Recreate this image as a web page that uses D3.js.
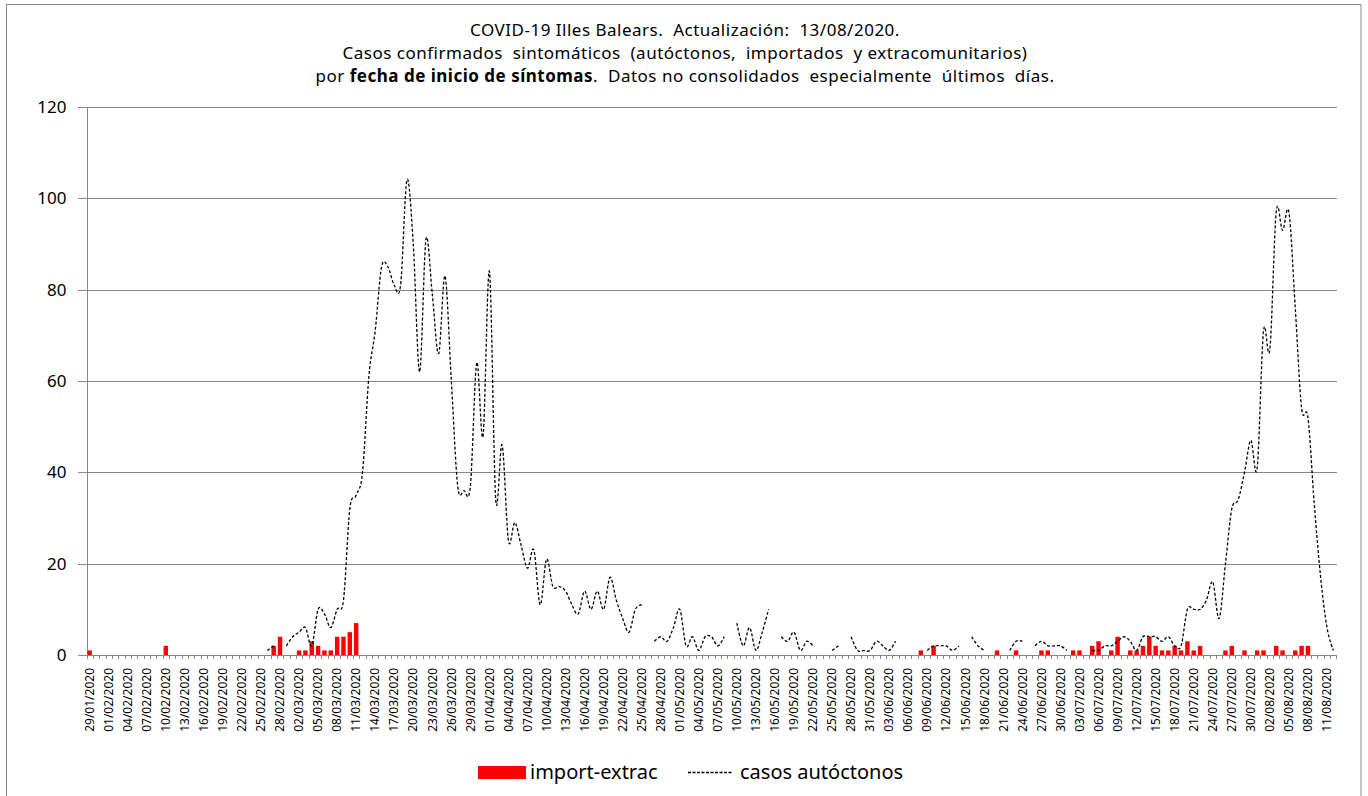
<!DOCTYPE html>
<html lang="es">
  <head>
    <meta charset="utf-8">
    <title>COVID-19 Illes Balears</title>
    <script src="https://d3js.org/d3.v7.min.js"></script>
    <style>
      body { margin: 0; background: #fff; }
      text { font-family: "Noto Sans", "Open Sans", sans-serif; fill: #000; }
    </style>
  </head>
  <body>
    <svg width="1368" height="796"></svg>
    <script>

      // first and last day on the x axis (one category per day)
      var firstDay = "29/01/2020";
      var lastDay = "12/08/2020";

      // casos autóctonos per day, null = empty cell (line is broken there)
      var autoJan = [null, null, null];
      var autoFeb = [null,null,null,null,null,null,null,null,null,null,
                     null,null,null,null,null,null,null,null,null,null,
                     null,null,null,null,null,1,2,null,2];
      var autoMar = [4,5,6,2,10,9,6,10,12,32, 35,40,61,71,85,85,81,81,104,90,
                     62,91,79,66,83,60,37,36,37,64, 48];
      var autoApr = [84,34,46,25,29,24,19,23,11,21, 15,15,14,11,9,14,10,14,10,17,
                     12,8,5,10,11,null,3,4,3,6];
      var autoMay = [10,2,4,1,4,4,2,4,null,7, 2,6,1,5,10,null,4,3,5,1,
                     3,2,null,null,1,2,null,4,1,1, 1];
      var autoJun = [3,2,1,3,null,null,null,null,1,2, 2,2,1,2,null,4,2,1,null,null,
                     null,1,3,3,null,2,3,2,2,2];
      var autoJul = [1,null,null,null,1,1,2,2,3,4, 3,1,4,4,4,3,4,2,2,10,
                     10,10,12,16,8,20,32,34,40,47, 41];
      var autoAug = [71,67,97,93,97,76,54,52,33,17,6,1];

      // import-extrac per day
      var impJan = [1,0,0];
      var impFeb = [0,0,0,0,0,0,0,0,0,2, 0,0,0,0,0,0,0,0,0,0, 0,0,0,0,0,0,2,4,0];
      var impMar = [0,1,1,3,2,1,1,4,4,5, 7,0,0,0,0,0,0,0,0,0, 0,0,0,0,0,0,0,0,0,0, 0];
      var impApr = [0,0,0,0,0,0,0,0,0,0, 0,0,0,0,0,0,0,0,0,0, 0,0,0,0,0,0,0,0,0,0];
      var impMay = [0,0,0,0,0,0,0,0,0,0, 0,0,0,0,0,0,0,0,0,0, 0,0,0,0,0,0,0,0,0,0, 0];
      var impJun = [0,0,0,0,0,0,0,1,0,2, 0,0,0,0,0,0,0,0,0,1, 0,0,1,0,0,0,1,1,0,0];
      var impJul = [0,1,1,0,2,3,0,1,4,0, 1,1,2,4,2,1,1,2,1,3, 1,2,0,0,0,1,2,0,1,0, 1];
      var impAug = [1,0,2,1,0,1,2,2,0,0,0,0];

      var yTicks = [0, 20, 40, 60, 80, 100, 120];
      var seriesNames = ["import-extrac", "casos autóctonos"];

      var titleLines = [
        "COVID-19 Illes Balears.  Actualización:  13/08/2020.",
        "Casos confirmados  sintomáticos  (autóctonos,  importados  y extracomunitarios)"
      ];

      var autoctonos = [].concat(autoJan, autoFeb, autoMar, autoApr, autoMay, autoJun, autoJul, autoAug);
      var importados = [].concat(impJan, impFeb, impMar, impApr, impMay, impJun, impJul, impAug);

      var parseDay = d3.timeParse("%d/%m/%Y");
      var fmtDay = d3.timeFormat("%d/%m/%Y");
      var days = d3.timeDay.range(parseDay(firstDay), d3.timeDay.offset(parseDay(lastDay), 1)).map(fmtDay);

      var svg = d3.select("svg");
      // plot area (note: "top" is a reserved window property, so use other names)
      var plotL = 86.5, plotR = 1336.5, plotT = 107, plotB = 655;

      var x = d3.scaleBand().domain(days).range([plotL, plotR]);
      var y = d3.scaleLinear().domain([0, 120]).range([plotB, plotT]);

      // outer frame of the chart
      svg.append("rect")
        .attr("x", 6.5).attr("y", 4.5)
        .attr("width", 1354.5).attr("height", 800)
        .attr("fill", "none").attr("stroke", "#8e8e8e");

      // title
      var title = svg.append("text")
        .attr("text-anchor", "middle")
        .style("font-size", "17px")
        .style("letter-spacing", "0.5px")
        .style("white-space", "pre");
      title.selectAll("tspan.line").data(titleLines).enter().append("tspan")
        .attr("class", "line")
        .attr("x", 685)
        .attr("y", function(d, i) { return 36 + i * 23; })
        .text(function(d) { return d; });
      var last = svg.append("text")
        .attr("x", 685).attr("y", 82)
        .attr("text-anchor", "middle")
        .style("font-size", "17px")
        .style("letter-spacing", "0.5px")
        .style("white-space", "pre");
      last.append("tspan").text("por ");
      last.append("tspan").style("font-weight", "bold").text("fecha de inicio de síntomas");
      last.append("tspan").text(".  Datos no consolidados  especialmente  últimos  días.");

      // horizontal gridlines
      svg.append("g")
        .attr("transform", "translate(" + plotL + ",0)")
        .call(d3.axisLeft(y).tickValues(yTicks).tickSize(-(plotR - plotL)).tickFormat(""))
        .call(function(g) { g.select(".domain").remove(); })
        .selectAll("line").attr("stroke", "#878787").attr("shape-rendering", "crispEdges");

      // y axis
      var yAxis = svg.append("g")
        .attr("transform", "translate(" + plotL + ",0)")
        .call(d3.axisLeft(y).tickValues(yTicks).tickSize(9).tickPadding(11));
      yAxis.select(".domain").attr("stroke", "#878787").attr("shape-rendering", "crispEdges");
      yAxis.selectAll("line").attr("stroke", "#878787").attr("shape-rendering", "crispEdges");
      yAxis.selectAll("text").style("font-size", "17px").style("font-family", "Noto Sans");

      // x axis: a small tick on every day boundary, a label every 3 days
      var xAxis = svg.append("g")
        .attr("transform", "translate(0," + plotB + ")")
        .call(d3.axisBottom(x).tickValues(days.filter(function(d, i) { return i % 3 == 0; })).tickSize(0));
      xAxis.select(".domain").attr("stroke", "#878787").attr("shape-rendering", "crispEdges");
      xAxis.selectAll("text")
        .attr("transform", "rotate(-90)")
        .attr("text-anchor", "end")
        .attr("x", -13).attr("y", 0).attr("dy", "0.35em")
        .style("font-size", "12px").style("font-family", "Noto Sans");

      svg.append("g").selectAll("line")
        .data(days.concat([null])).enter().append("line")
        .attr("x1", function(d) { return d ? Math.round(x(d)) + 0.5 : plotR; })
        .attr("x2", function(d) { return d ? Math.round(x(d)) + 0.5 : plotR; })
        .attr("y1", plotB).attr("y2", plotB + 4)
        .attr("stroke", "#878787");

      // bars
      var barW = x.bandwidth() * 0.7;
      svg.append("g").selectAll("rect")
        .data(importados).enter().append("rect")
        .attr("x", function(d, i) { return x(days[i]) + (x.bandwidth() - barW) / 2; })
        .attr("y", function(d) { return y(d); })
        .attr("width", barW)
        .attr("height", function(d) { return plotB - y(d); })
        .attr("fill", "#ff0000");

      // smoothed dashed line, broken where there is no value
      var line = d3.line()
        .defined(function(d) { return d != null; })
        .x(function(d, i) { return x(days[i]) + x.bandwidth() / 2; })
        .y(function(d) { return y(d); })
        .curve(d3.curveCardinal.tension(0));

      svg.append("path")
        .datum(autoctonos)
        .attr("d", line)
        .attr("fill", "none")
        .attr("stroke", "#000")
        .attr("stroke-width", 1.3)
        .attr("stroke-dasharray", "3,2");

      // legend
      var legend = svg.append("g");
      legend.append("rect")
        .attr("x", 478).attr("y", 766).attr("width", 48).attr("height", 13)
        .attr("fill", "#ff0000");
      legend.append("text")
        .attr("x", 530).attr("y", 779)
        .style("font-size", "20px")
        .text(seriesNames[0]);
      legend.append("line")
        .attr("x1", 688).attr("x2", 733).attr("y1", 772.5).attr("y2", 772.5)
        .attr("stroke", "#000").attr("stroke-width", 1.3)
        .attr("stroke-dasharray", "3,1.5");
      legend.append("text")
        .attr("x", 740).attr("y", 779)
        .style("font-size", "20px")
        .text(seriesNames[1]);

    </script>
  </body>
</html>
